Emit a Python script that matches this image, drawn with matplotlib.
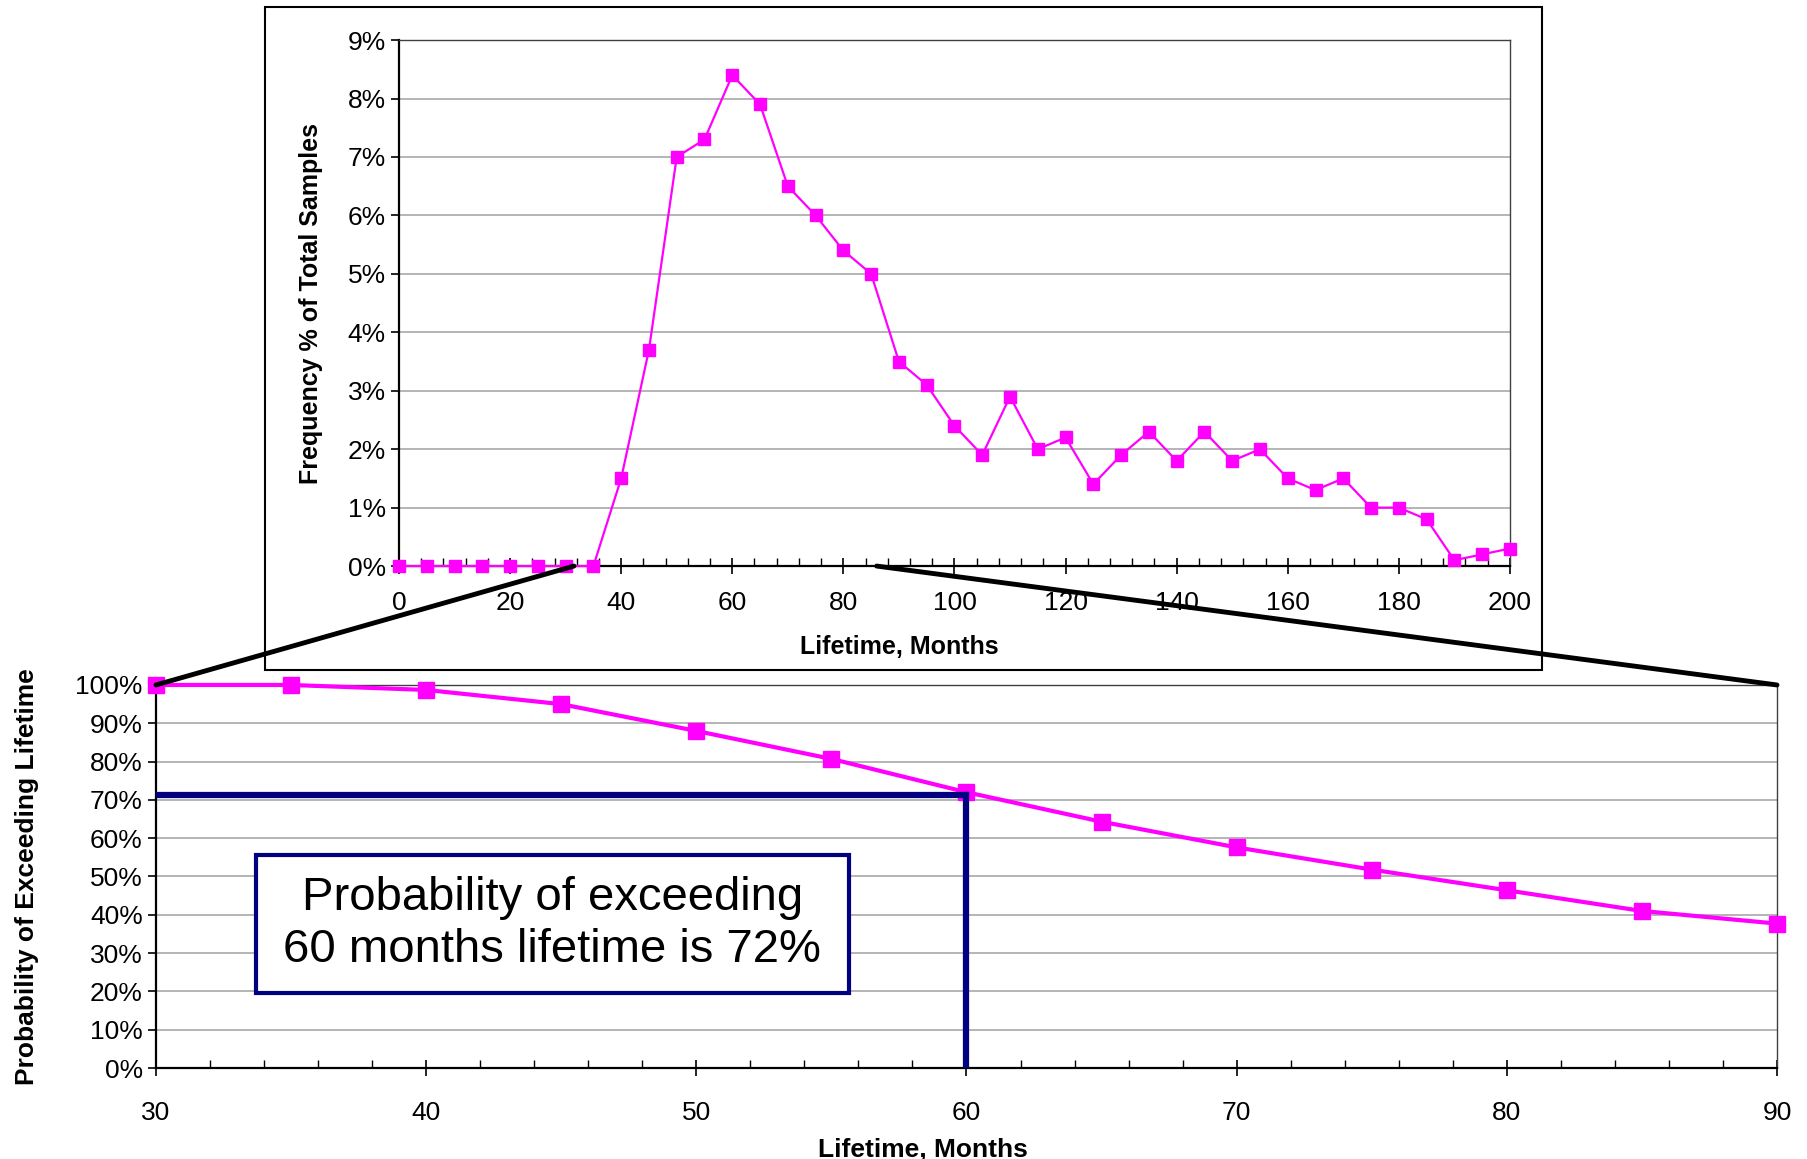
import numpy as np
import matplotlib.pyplot as plt
from matplotlib.patches import Rectangle, ConnectionPatch
from matplotlib.ticker import MultipleLocator, PercentFormatter

plt.rcParams['font.family'] = ['Liberation Sans', 'DejaVu Sans']

# histogram of lifetimes (frequency, % of total samples)
months_hist = np.arange(0, 205, 5)
freq_pct = [0, 0, 0, 0, 0, 0, 0, 0, 1.5, 3.7, 7.0, 7.3, 8.4, 7.9, 6.5, 6.0,
            5.4, 5.0, 3.5, 3.1, 2.4, 1.9, 2.9, 2.0, 2.2, 1.4, 1.9, 2.3, 1.8,
            2.3, 1.8, 2.0, 1.5, 1.3, 1.5, 1.0, 1.0, 0.8, 0.1, 0.2, 0.3]

# probability of exceeding a given lifetime
months_surv = np.arange(30, 95, 5)
exceed_pct = [100, 100, 98.7, 95.0, 88.0, 80.7, 72.0, 64.3, 57.6, 51.8,
              46.4, 41.0, 37.7]

target_month = 60
target_pct = 71.2
note = "Probability of exceeding\n60 months lifetime is 72%"

MAG = '#FF00FF'
NAVY = '#000080'
GRID = '#A8A8A8'

fig = plt.figure(figsize=(18.07, 11.59), dpi=100)

# frame behind the histogram
fig.patches.append(Rectangle((0.1467, 0.4219), 0.7067, 0.572, transform=fig.transFigure,
                             facecolor='white', edgecolor='black', lw=1.5, zorder=-5))

ax1 = fig.add_axes([0.2208, 0.5116, 0.6148, 0.4538])
ax2 = fig.add_axes([0.0863, 0.0785, 0.8971, 0.3305])


def style(ax, tsize):
    ax.grid(axis='y', color=GRID, lw=1.2)
    ax.set_axisbelow(True)
    for s in ['top', 'right']:
        ax.spines[s].set_color('#404040')
        ax.spines[s].set_linewidth(1.0)
    for s in ['left', 'bottom']:
        ax.spines[s].set_color('black')
        ax.spines[s].set_linewidth(1.6)
    ax.tick_params(axis='x', which='major', direction='inout', length=12, width=1.2,
                   labelsize=tsize, pad=10)
    ax.tick_params(axis='x', which='minor', direction='in', length=6, width=1.0)
    ax.tick_params(axis='y', which='major', direction='out', length=6, width=1.2,
                   labelsize=tsize)
    ax.yaxis.set_major_formatter(PercentFormatter(decimals=0))


ax1.plot(months_hist, freq_pct, color=MAG, lw=1.6, marker='s', ms=8, zorder=3,
         clip_on=False)
ax1.set_xlim(0, 200)
ax1.set_ylim(0, 9)
ax1.xaxis.set_major_locator(MultipleLocator(20))
ax1.xaxis.set_minor_locator(MultipleLocator(4))
ax1.yaxis.set_major_locator(MultipleLocator(1))
style(ax1, 19)
ax1.tick_params(axis='x', which='major', pad=12)
ax1.set_xlabel('Lifetime, Months', fontsize=18, fontweight='bold', labelpad=14, x=0.45)
ax1.set_ylabel('Frequency % of Total Samples', fontsize=18, fontweight='bold', labelpad=18)

ax2.plot(months_surv, exceed_pct, color=MAG, lw=3, marker='s', ms=11, zorder=3,
         clip_on=False)
ax2.plot([30, target_month], [target_pct, target_pct], color=NAVY, lw=4.5, zorder=4)
ax2.plot([target_month, target_month], [0, target_pct], color=NAVY, lw=4.5, zorder=4)
ax2.set_xlim(30, 90)
ax2.set_ylim(0, 100)
ax2.xaxis.set_major_locator(MultipleLocator(10))
ax2.xaxis.set_minor_locator(MultipleLocator(2))
ax2.yaxis.set_major_locator(MultipleLocator(10))
style(ax2, 19)
ax2.tick_params(axis='x', which='major', pad=18)
ax2.set_xlabel('Lifetime, Months', fontsize=19, fontweight='bold', labelpad=9, x=0.473)
ax2.set_ylabel('Probability of Exceeding Lifetime', fontsize=19, fontweight='bold',
               labelpad=26)

ax2.add_patch(Rectangle((33.7, 19.6), 21.95, 36.0, facecolor='white', edgecolor=NAVY,
                        lw=3, zorder=5))
ax2.text(33.7 + 21.95 / 2, 19.6 + 18.0, note, ha='center', va='center', fontsize=34,
         linespacing=1.25, zorder=6)

# zoom lines from the histogram down to the lower chart
for xa, xb, yb in [(31.5, 30, 100), (86, 90, 100)]:
    con = ConnectionPatch(xyA=(xa, 0), coordsA=ax1.transData, xyB=(xb, yb),
                          coordsB=ax2.transData, color='black', lw=3.5, zorder=10)
    fig.add_artist(con)

fig.savefig('out.png', dpi=100)
